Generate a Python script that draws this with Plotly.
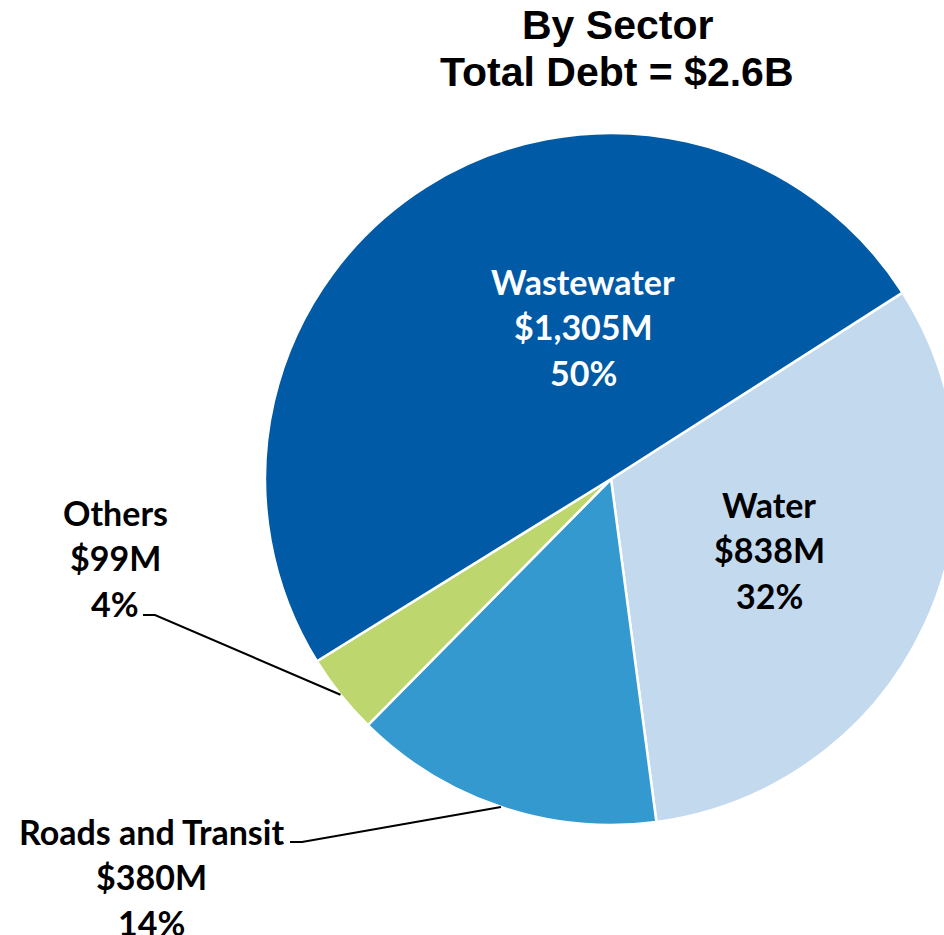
import math
import plotly.graph_objects as go

# Debt by sector, in $ millions
sectors = ["Water", "Roads and Transit", "Others", "Wastewater"]
debt_musd = [838, 380, 99, 1305]
colors = ["#C3D9EE", "#3399CE", "#BED66E", "#005AA6"]
label_colors = ["black", "black", "black", "white"]

title_lines = ["By Sector", "Total Debt = $2.6B"]

# Canvas and pie geometry (pixels from top-left)
W, H = 975, 935
CX, CY, R = 611, 479, 346
ROTATION = 57.4

def px(x):
    return x / W

def py(y):
    return 1 - y / H

total = sum(debt_musd)
pcts = [round(v / total * 100) for v in debt_musd]

fig = go.Figure(
    go.Pie(
        labels=sectors,
        values=debt_musd,
        sort=False,
        direction="clockwise",
        rotation=ROTATION,
        marker=dict(colors=colors, line=dict(color="white", width=2.5)),
        textinfo="none",
        hoverinfo="label+value+percent",
        showlegend=False,
        domain=dict(x=[px(CX - R), px(CX + R)], y=[py(CY + R), py(CY - R)]),
    )
)

# Label placement: (center x, first-line center y) for each sector
label_pos = {
    "Water": (769, 504),
    "Roads and Transit": (151, 831),
    "Others": (115, 512),
    "Wastewater": (583, 281),
}
LINE_STEP = 45.5
LABEL_FONT = dict(family="Lato", size=34, weight="bold")

annotations = []
for name, val, pct, col in zip(sectors, debt_musd, pcts, label_colors):
    lines = [name, f"${val:,}M", f"{pct}%"]
    lx, ly = label_pos[name]
    for i, t in enumerate(lines):
        annotations.append(dict(
            x=px(lx), y=py(ly + i * LINE_STEP), xref="paper", yref="paper",
            text=t, showarrow=False, xanchor="center", yanchor="middle",
            font=dict(color=col, **LABEL_FONT),
        ))

# Title
for i, t in enumerate(title_lines):
    annotations.append(dict(
        x=px(617), y=py(25 + i * 47.5), xref="paper", yref="paper",
        text=t, showarrow=False, xanchor="center", yanchor="middle",
        font=dict(family="Liberation Sans, Arial", size=41, color="black", weight="bold"),
    ))

# Leader lines from outside labels to the rim at the slice's mid-angle
shapes = []
leader_start = {"Others": (143, 615), "Roads and Transit": (290, 842)}
cum = 0
for name, val in zip(sectors, debt_musd):
    mid = ROTATION + (cum + val / 2) / total * 360
    cum += val
    if name in leader_start:
        sx, sy = leader_start[name]
        ex = CX + R * math.sin(math.radians(mid))
        ey = CY - R * math.cos(math.radians(mid))
        path = f"M{px(sx)},{py(sy)} L{px(sx + 12)},{py(sy)} L{px(ex)},{py(ey)}"
        shapes.append(dict(type="path", path=path, xref="paper", yref="paper",
                           line=dict(color="black", width=2)))

fig.update_layout(
    width=W, height=H, autosize=False,
    margin=dict(l=0, r=0, t=0, b=0),
    paper_bgcolor="white", plot_bgcolor="white",
    annotations=annotations, shapes=shapes,
)

fig.write_html(
    "out.html",
    config={"displayModeBar": False},
    post_script="document.documentElement.style.overflow='hidden';document.body.style.overflow='hidden';document.body.style.margin='0';",
)
